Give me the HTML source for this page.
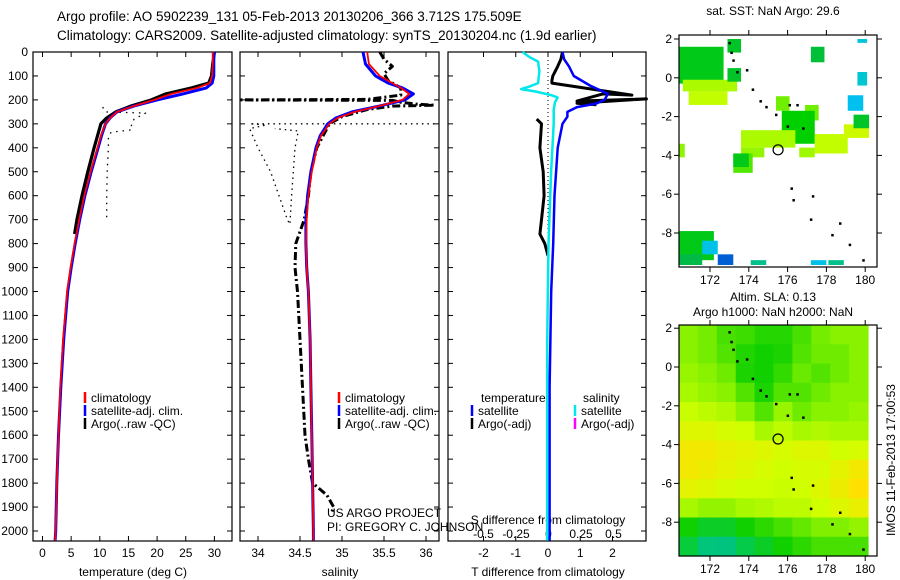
<!DOCTYPE html>
<html><head><meta charset="utf-8"><title>Argo profile</title>
<style>
html,body{margin:0;padding:0;background:#fff;}
svg{display:block;font-family:"Liberation Sans",sans-serif;}
text{fill:#000;}
</style></head>
<body>
<svg id="fig" width="900" height="580" viewBox="0 0 900 580" xmlns="http://www.w3.org/2000/svg">
<rect x="0" y="0" width="900" height="580" fill="#fff"/>
<text x="57" y="21" font-size="13.5">Argo profile: AO 5902239_131 05-Feb-2013 20130206_366 3.712S 175.509E</text>
<text x="57" y="40" font-size="13.5">Climatology: CARS2009. Satellite-adjusted climatology: synTS_20130204.nc (1.9d earlier)</text>
<g id="g"></g>
</svg>
<script>
// ---------- DATA ----------
const depthTicks=[0,100,200,300,400,500,600,700,800,900,1000,1100,1200,1300,1400,1500,1600,1700,1800,1900,2000];
const tempTicks=[0,5,10,15,20,25,30];
const salTicks=[34,34.5,35,35.5,36];
const salTickLabels=["34","34.5","35","35.5","36"];
const tdTicks=[-2,-1,0,1,2];
const sdTicks=[-0.5,-0.25,0,0.25,0.5];
const sdTickLabels=["-0.5","-0.25","0","0.25","0.5"];

const depthC=[0,50,100,130,150,175,200,225,250,275,300,350,400,500,600,700,800,900,1000,1200,1400,1600,1800,2000,2040];
const tempClim=[29.7,29.7,29.6,29.2,27.0,22.5,19.5,16,13,11.8,11,10.2,9.6,8.4,7.3,6.4,5.6,4.9,4.3,3.6,3.1,2.8,2.5,2.3,2.2];
const tempSat=[29.9,29.9,29.9,29.6,28.6,24.5,20,16,13,11.8,11,10.3,9.7,8.5,7.4,6.5,5.7,5.0,4.4,3.7,3.2,2.8,2.5,2.3,2.2];
const depthA=[0,20,50,100,130,150,175,200,225,250,275,300,350,400,500,600,700,760];
const tempArgo=[30,29.9,29.7,29.5,29,26,21.5,19,15.5,12.8,11.2,10.2,9.6,9.0,7.9,6.9,6.0,5.6];
const depthR=[230,250,255,280,300,325,335,350,400,500,600,700];
const tempRaw=[10.5,11,18,16,15.5,15.6,12,11.5,11.5,11.3,11.2,11.2];

const salClim=[35.3,35.32,35.45,35.6,35.7,35.8,35.72,35.45,35.15,34.95,34.85,34.75,34.7,34.64,34.6,34.58,34.57,34.58,34.6,34.62,34.63,34.64,34.65,34.66,34.66];
const salSat=[35.25,35.28,35.4,35.55,35.72,35.85,35.75,35.45,35.12,34.93,34.83,34.74,34.69,34.63,34.59,34.57,34.57,34.58,34.6,34.62,34.63,34.64,34.65,34.66,34.66];
const depthAS=[0,30,60,90,120,150,180,198,200,202,210,218,222,226,240,270,300,400,500,600,700,800,900,1000,1200,1400,1600,1700,1800,1850,1900,1920];
const salArgo=[35.45,35.5,35.6,35.5,35.55,35.7,35.7,35.3,33.8,35.6,35.7,35.9,36.1,35.6,35.3,35.0,34.85,34.7,34.63,34.6,34.55,34.45,34.44,34.47,34.5,34.53,34.56,34.6,34.65,34.82,34.9,34.88];
const depthRS=[300,300,305,320,400,500,600,700,720,600,500,400,330,320];
const salRaw=[36.1,33.9,34.1,33.9,34.0,34.15,34.25,34.35,34.38,34.4,34.42,34.44,34.48,34.2];

const depthTD=[0,30,60,100,140,175,200,215,230,250,270,300,400,600,800,1000,1400,2040];
const tdSat=[0.45,0.5,0.65,0.8,1.3,1.86,1.75,1.5,0.9,0.6,0.6,0.45,0.3,0.2,0.16,0.1,0.05,0.05];
const depthSD=[0,20,40,80,130,145,155,165,180,190,210,240,300,500,800,1200,2040];
const sdSat=[-0.2,-0.15,-0.08,-0.07,-0.08,-0.15,-0.21,-0.1,0.02,0.07,0.05,0.04,0.04,0.02,0,-0.01,-0.01];
const depthTA=[0,30,60,100,120,130,180,175,205,196,214,220];
const tdArgo=[0.45,0.4,0.3,0.15,0.12,0.12,2.6,1.7,0.9,3.05,0.9,1.5];
const depthTA2=[280,300,400,500,600,700,760,800,850];
const tdArgo2=[-0.35,-0.2,-0.25,-0.15,-0.12,-0.2,-0.25,-0.1,0];

const lonTicks=[172,174,176,178,180];
const latTicks=[2,0,-2,-4,-6,-8];
const sstLon0=[170.4,170.6,170.9,172.9,172.9,177.2,179.6,179.1,179.6,175.4,176.9,175.7,173.6,173.6,177.4,176.6,178.9,179.4,173.2,173.2,170.4,170.4,171.6,172.4,174.1,177.2,178.1,170.4];
const sstLat0=[1.6,-0.1,-0.7,2.0,0.5,1.6,0.3,-0.9,2.0,-0.95,-1.4,-1.7,-2.7,-3.6,-2.9,-3.6,-2.4,-1.9,-3.9,-3.9,-3.4,-7.9,-8.4,-9.1,-9.4,-9.4,-9.4,-9.1];
const sstLon1=[172.7,173.4,172.9,173.6,173.6,177.9,180.1,179.9,180.1,176.1,177.6,177.4,176.4,174.8,179.1,177.4,180.2,180.2,174.2,174.0,170.7,172.2,172.4,173.2,174.9,178.0,178.9,171.6];
const sstLat1=[-0.3,-0.7,-1.4,1.3,-0.2,0.8,-0.4,-1.7,1.8,-1.7,-2.2,-3.4,-3.6,-4.1,-3.9,-4.1,-3.1,-2.6,-4.9,-4.6,-4.1,-9.4,-9.1,-9.65,-9.65,-9.65,-9.65,-9.65];
const sstVal=[0.42,0.7,0.74,0.4,0.4,0.38,0.22,0.15,0.2,0.6,0.6,0.45,0.7,0.66,0.74,0.68,0.76,0.4,0.56,0.42,0.65,0.42,0.17,0.02,0.3,0.17,0.3,0.36];
const slaRows=[
[0.52,0.48,0.4,0.38,0.34,0.34,0.4,0.48,0.52,0.52],
[0.52,0.48,0.42,0.33,0.3,0.32,0.42,0.47,0.47,0.52],
[0.56,0.52,0.47,0.32,0.3,0.36,0.46,0.42,0.47,0.52],
[0.6,0.56,0.52,0.42,0.32,0.42,0.42,0.47,0.52,0.52],
[0.68,0.65,0.62,0.52,0.42,0.56,0.47,0.52,0.52,0.56],
[0.75,0.75,0.72,0.7,0.6,0.65,0.6,0.62,0.6,0.6],
[0.85,0.85,0.8,0.78,0.75,0.72,0.75,0.75,0.7,0.72],
[0.85,0.82,0.78,0.75,0.72,0.7,0.72,0.72,0.78,0.85],
[0.78,0.75,0.72,0.7,0.7,0.68,0.7,0.75,0.82,0.9],
[0.6,0.55,0.55,0.6,0.62,0.65,0.65,0.7,0.75,0.8],
[0.3,0.25,0.25,0.3,0.35,0.4,0.45,0.5,0.5,0.55],
[0.22,0.12,0.1,0.2,0.25,0.3,0.35,0.4,0.4,0.4]];
const coastLon=[173.0,173.1,173.2,173.4,173.9,174.2,174.6,174.9,175.4,176.1,176.5,176.8,176.0,176.2,176.3,177.3,177.2,178.7,178.3,179.2,179.9];
const coastLat=[1.8,1.3,0.9,0.3,0.4,-0.6,-1.2,-1.5,-1.9,-1.4,-1.4,-2.6,-2.5,-5.7,-6.3,-6.1,-7.3,-7.5,-8.1,-8.6,-9.4];
const argoLon=175.509, argoLat=-3.712;

// ---------- DRAW ----------
const NS="http://www.w3.org/2000/svg";
const G=document.getElementById('g');
function mk(tag,attrs,parent){const e=document.createElementNS(NS,tag);for(const k in attrs)e.setAttribute(k,attrs[k]);(parent||G).appendChild(e);return e;}
const TOP=52, BOT=541;
function yD(d){return TOP+d*0.2395;}
const xT=v=>42.5+5.73*v;
const xS=v=>258+84*(v-34);
const xTD=v=>548+32.25*v;
const xSD=v=>548.5+130*v;

function panel(x0,x1,name){
  const r=mk('rect',{x:x0,y:TOP,width:x1-x0,height:BOT-TOP,fill:'none',stroke:'#000','stroke-width':1.2});
  
  
  depthTicks.forEach(d=>{
    mk('line',{x1:x0,x2:x0+5,y1:yD(d),y2:yD(d),stroke:'#000'});
    mk('line',{x1:x1-5,x2:x1,y1:yD(d),y2:yD(d),stroke:'#000'});
  });
}
function xticks(vals,labels,fx,ylab,name){
  vals.forEach((v,i)=>{
    const x=fx(v);
    mk('line',{x1:x,x2:x,y1:BOT,y2:BOT-5,stroke:'#000'});
    mk('line',{x1:x,x2:x,y1:TOP,y2:TOP+5,stroke:'#000'});
    if(labels){
      const t=mk('text',{x:x,y:ylab,'font-size':12,'text-anchor':'middle'});
      t.textContent=labels[i];
      
      
    }
  });
}
function line(ds,vs,fx,color,w,dash,name){
  const p=ds.map((d,i)=>fx(vs[i]).toFixed(1)+','+yD(d).toFixed(1)).join(' ');
  const a={points:p,fill:'none',stroke:color,'stroke-width':w,'stroke-linejoin':'round'};
  if(dash)a['stroke-dasharray']=dash;
  const e=mk('polyline',a);
  
  
}
function txt(x,y,s,name,size,anchor,color){
  const t=mk('text',{x:x,y:y,'font-size':size||12,'text-anchor':anchor||'start'});
  if(color)t.setAttribute('fill',color);
  t.textContent=s;
  
  
  return t;
}
function legend(x,y,color,s,name){
  const l=mk('line',{x1:x,x2:x,y1:y-10,y2:y+1,stroke:color,'stroke-width':2.5});
  
  
  txt(x+6,y,s,name,12);
}

panel(33,232,'temperature-panel');
depthTicks.forEach(d=>txt(28,yD(d)+4,String(d),'depth-tick-label',12,'end'));
xticks(tempTicks,tempTicks.map(String),xT,557,'temperature-tick-label');
txt(133,576,'temperature (deg C)','temperature-axis-title',12,'middle');
line(depthR,tempRaw,xT,'#000',1.3,'1.5,5','argo-raw-temperature');
line(depthA,tempArgo,xT,'#000',3.2,null,'argo-temperature');
line(depthC,tempSat,xT,'#0000ff',3,null,'satellite-temperature');
line(depthC,tempClim,xT,'#ff0000',1.8,null,'climatology-temperature');
legend(85,402,'#ff0000','climatology','legend-climatology');
legend(85,415,'#0000ff','satellite-adj. clim.','legend-satellite');
legend(85,428,'#000','Argo(..raw -QC)','legend-argo');

panel(240,439,'salinity-panel');
xticks(salTicks,salTickLabels,xS,557,'salinity-tick-label');
txt(340,576,'salinity','salinity-axis-title',12,'middle');
line(depthRS,salRaw,xS,'#000',1.3,'1.5,4','argo-raw-salinity');
line(depthAS,salArgo,xS,'#000',3,'8,3,2,3','argo-salinity');
line(depthC,salSat,xS,'#0000ff',3,null,'satellite-salinity');
line(depthC,salClim,xS,'#ff0000',1.8,null,'climatology-salinity');
legend(339,402,'#ff0000','climatology','legend-climatology-2');
legend(339,415,'#0000ff','satellite-adj. clim.','legend-satellite-2');
legend(339,428,'#000','Argo(..raw -QC)','legend-argo-2');
txt(327,517,'US ARGO PROJECT','project-credit',12);
txt(327,531,'PI: GREGORY C. JOHNSON','pi-credit',12);

panel(448,646,'difference-panel');
xticks(tdTicks,tdTicks.map(String),xTD,557,'t-difference-tick-label');
sdTicks.forEach((v,i)=>{txt(xSD(v),538,sdTickLabels[i],'s-difference-tick-label',12,'middle');});
txt(548,524,'S difference from climatology','s-difference-axis-title',12,'middle');
txt(548,576,'T difference from climatology','t-difference-axis-title',12,'middle');
mk('line',{x1:548,x2:548,y1:TOP,y2:300,stroke:'#000','stroke-dasharray':'1,3'});
line(depthTA,tdArgo,xTD,'#000',3,null,'argo-t-difference');
line(depthTA2,tdArgo2,xTD,'#000',3,null,'argo-t-difference-deep');
line(depthTD,tdSat,xTD,'#0000ff',2.5,null,'satellite-t-difference');
line(depthSD,sdSat,xSD,'#00e8e8',2.5,null,'satellite-s-difference');
txt(481,402,'temperature','legend-temperature-header',12);
txt(583,402,'salinity','legend-salinity-header',12);
legend(472,415,'#0000ff','satellite','legend-t-satellite');
legend(472,428,'#000','Argo(-adj)','legend-t-argo');
legend(575,415,'#00e8e8','satellite','legend-s-satellite');
legend(575,428,'#ff00ff','Argo(-adj)','legend-s-argo');

function cmapSST(v){const s=[[0,'#0050d0'],[0.15,'#00c0f0'],[0.25,'#00c8c8'],[0.35,'#00b850'],[0.45,'#00d000'],[0.6,'#70f000'],[0.75,'#c8ff00'],[0.85,'#ffd000'],[1,'#ff9000']];return interp(s,v);}
function cmapSLA(v){const s=[[0,'#00b8a0'],[0.15,'#00c870'],[0.3,'#10d000'],[0.5,'#80f000'],[0.7,'#d0ff00'],[0.9,'#ffe000'],[1,'#ffc800']];return interp(s,v);}
function hex(h){return [1,3,5].map(i=>parseInt(h.substr(i,2),16));}
function interp(s,v){v=Math.max(0,Math.min(1,v));for(let i=1;i<s.length;i++){if(v<=s[i][0]){const t=(v-s[i-1][0])/(s[i][0]-s[i-1][0]);const a=hex(s[i-1][1]),b=hex(s[i][1]);return 'rgb('+a.map((c,j)=>Math.round(c+(b[j]-c)*t)).join(',')+')';}}return s[s.length-1][1];}

function map(top,bot,name){
  const L=679,R=877;
  const xL=lon=>710+19.4*(lon-172);
  return {L,R,xL,top,bot,name};
}
function mapFrame(m,labelY){
  const r=mk('rect',{x:m.L,y:m.top,width:m.R-m.L,height:m.bot-m.top,fill:'none',stroke:'#000','stroke-width':1.2});
  
  
  lonTicks.forEach(l=>{const x=m.xL(l);mk('line',{x1:x,x2:x,y1:m.bot,y2:m.bot+5,stroke:'#000'});mk('line',{x1:x,x2:x,y1:m.top,y2:m.top-5,stroke:'#000'});txt(x,labelY,String(l),m.name+'-lon-label',12,'middle');});
  latTicks.forEach(l=>{const y=m.yL(l);if(y<m.top-1||y>m.bot)return;mk('line',{x1:m.L-5,x2:m.L,y1:y,y2:y,stroke:'#000'});mk('line',{x1:m.R,x2:m.R+5,y1:y,y2:y,stroke:'#000'});txt(m.L-7,y+4,String(l),m.name+'-lat-label',12,'end');});
}
function coast(m){
  coastLon.forEach((lo,i)=>{const d=mk('rect',{x:m.xL(lo)-1,y:m.yL(coastLat[i])-1,width:2.5,height:2.5,fill:'#000'});});
  const c=mk('circle',{cx:m.xL(argoLon),cy:m.yL(argoLat),r:5,fill:'none',stroke:'#000','stroke-width':1.2});
  
  
}
const m1=map(35,267,'sst-map');
m1.yL=lat=>39+(2-lat)*19.4;
txt(773,15,'sat. SST: NaN Argo: 29.6','sst-map-title',12,'middle');
sstVal.forEach((v,i)=>{
  const x0=m1.xL(sstLon0[i]),x1=m1.xL(sstLon1[i]),y0=m1.yL(sstLat0[i]),y1=m1.yL(sstLat1[i]);
  const r=mk('rect',{x:Math.max(m1.L,x0),y:y0,width:Math.min(m1.R,x1)-Math.max(m1.L,x0),height:y1-y0,fill:cmapSST(v)});
  
  
});
mapFrame(m1,284);
coast(m1);
const m2=map(325,556,'sla-map');
m2.yL=lat=>367-lat*19.4;
txt(773,301,'Altim. SLA: 0.13','sla-map-title',12,'middle');
txt(773,316,'Argo h1000: NaN h2000: NaN','sla-map-subtitle',12,'middle');
const nR=slaRows.length,nC=slaRows[0].length;
const gx0=m2.L,gx1=868,gy0=m2.top,gy1=m2.bot;
slaRows.forEach((row,ri)=>row.forEach((v,ci)=>{
  const x=gx0+(gx1-gx0)*ci/nC,y=gy0+(gy1-gy0)*ri/nR;
  const r=mk('rect',{x:x,y:y,width:(gx1-gx0)/nC+0.6,height:(gy1-gy0)/nR+0.6,fill:cmapSLA(v)});
  
  
}));
mapFrame(m2,573);
coast(m2);
const ts=txt(0,0,'IMOS 11-Feb-2013 17:00:53','timestamp',12,'middle');
ts.setAttribute('transform','translate(895,460) rotate(-90)');
</script>
</body></html>
